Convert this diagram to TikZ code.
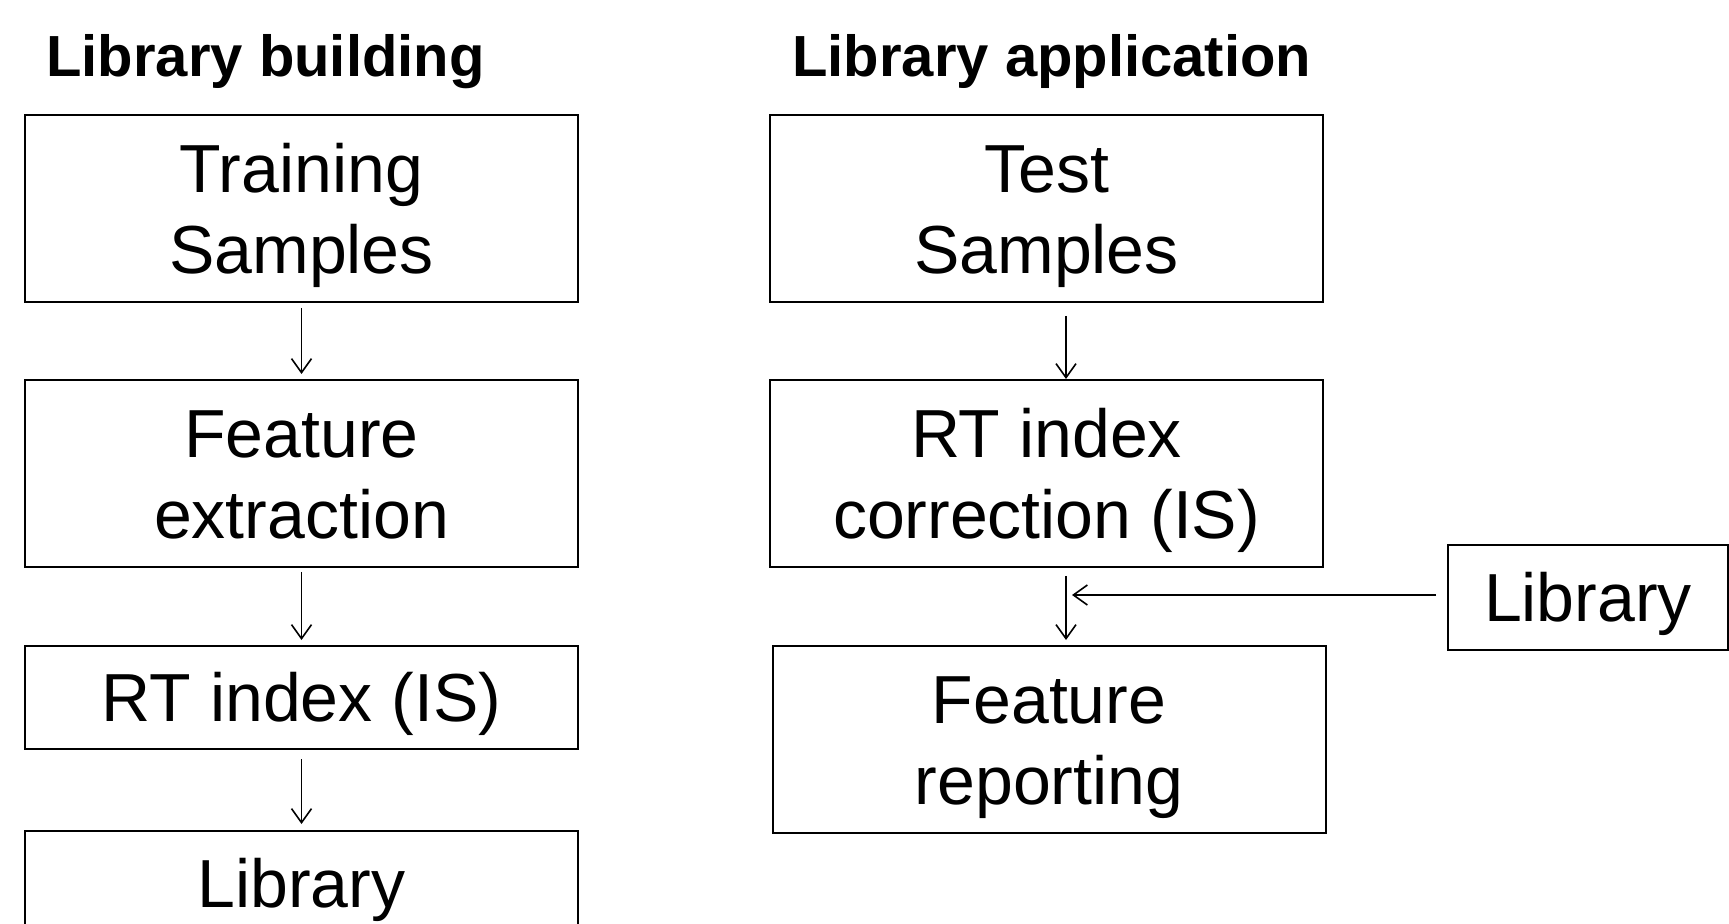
\documentclass[tikz,border=0pt]{standalone}
\usepackage{fontspec}
\setmainfont{Liberation Sans}
\usetikzlibrary{arrows.meta}
\begin{document}
\begin{tikzpicture}[x=0.5pt,y=-0.5pt,
  box/.style={draw, line width=1pt, inner sep=0pt, align=center,
    font=\fontsize{34pt}{40.5pt}\selectfont, minimum width=276.5pt},
  oneline/.style={text height=24.3pt, text depth=0pt},
  twoline/.style={text height=64.8pt, text depth=0pt},
  arr/.style={line width=0.8pt, -{Straight Barb[length=7pt,width=10pt,line width=0.8pt]}},
  title/.style={font=\fontsize{29pt}{34pt}\selectfont\bfseries, anchor=base west, inner sep=0pt}]
\useasboundingbox (0,0) rectangle (1729,924);

% column headings
\node[title] (tl) at (46,77) {Library building};
\node[title] (tr) at (792,77) {Library application};

% library building column
\node[box, twoline, minimum height=93.5pt] (L1) at (301.5,208.5) {Training\\Samples};
\node[box, twoline, minimum height=93.5pt] (L2) at (301.5,473.5) {Feature\\extraction};
\node[box, oneline, minimum height=51.5pt] (L3) at (301.5,697.5) {RT index (IS)};
\node[box, oneline, minimum height=52pt] (L4) at (301.5,883) {Library};

% library application column
\node[box, twoline, minimum height=93.5pt] (R1) at (1046.5,208.5) {Test\\Samples};
\node[box, twoline, minimum height=93.5pt] (R2) at (1046.5,473.5) {RT index\\correction (IS)};
\node[box, twoline, minimum height=93.5pt] (R3) at (1049,739.5) {Feature\\reporting};
\node[box, oneline, minimum width=140pt, minimum height=52.5pt] (LR) at (1588,597.5) {Library};

% connectors
\draw[arr, shorten <=2.5pt, shorten >=2.5pt] (L1.south) -- (L2.north);
\draw[arr, shorten <=2pt, shorten >=2.5pt] (L2.south) -- (L3.north);
\draw[arr, shorten <=4.5pt, shorten >=3pt] (L3.south) -- (L4.north);
\draw[arr, shorten <=6.5pt] ([xshift=9.75pt]R1.south) -- ([xshift=9.75pt]R2.north);
\draw[arr, shorten <=4pt, shorten >=2.5pt] ([xshift=9.75pt]R2.south) -- ([xshift=8.5pt]R3.north);
\coordinate (join) at (1072,595);
\draw[arr, shorten <=5.5pt] (LR.west |- join) -- (join);
\end{tikzpicture}
\end{document}
